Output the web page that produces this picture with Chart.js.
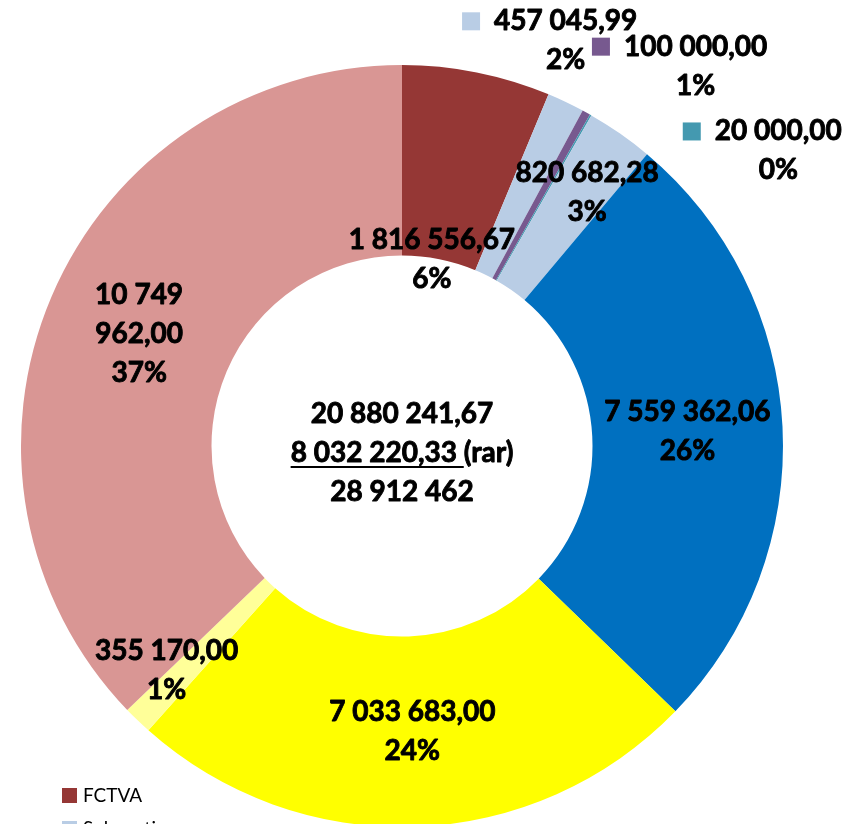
<!DOCTYPE html>
<html>
<head>
<meta charset="utf-8">
<script src="https://cdn.jsdelivr.net/npm/chart.js@4/dist/chart.umd.min.js"></script>
<style>
    html, body { margin: 0; padding: 0; background: #fff; overflow: hidden; }
    #recettesChart { display: block; }
</style>
</head>
<body>
<canvas id="recettesChart" width="860" height="900"></canvas>
<script>
// Recettes d'investissement (doughnut)
const categories = [
    'FCTVA', 'Subventions', 'Amendes de police', 'Cessions', 'Subventions (reports)',
    'Autofinancement', 'Emprunt', 'Taxe d\'aménagement', 'Excédent reporté'
];
const amounts = [
    1816556.67, 457045.99, 100000.00, 20000.00, 820682.28,
    7559362.06, 7033683.00, 355170.00, 10749962.00
];
const sliceColors = [
    '#953735', '#B9CDE5', '#77598F', '#4499B0', '#B9CDE5',
    '#0070C0', '#FFFF00', '#FFFF99', '#D99694'
];
// texte central : montant hors rar + rar = total
const centerAmounts = [20880241.67, 8032220.33];
const centerSuffix = '(rar)';

// placement des étiquettes : r = fraction du rayon externe, a = degrés depuis le haut
const labelPlacement = [
    { r: 0.497, a: 9.1 },
    { r: 1.147, a: 22.0, key: true },
    { r: 1.26, a: 37.7, key: true },
    { r: 1.255, a: 51.9, key: true },
    { r: 0.825, a: 36.1 },
    null,
    null,
    { r: 0.853, a: 226.4 },
    { maxWidth: 110 }
];

const FONT = "'Lato', 'Open Sans', sans-serif";

function formatFr(v, decimals) {
    const parts = v.toFixed(decimals).split('.');
    const intPart = parts[0].replace(/\B(?=(\d{3})+(?!\d))/g, ' ');
    return parts.length > 1 ? intPart + ',' + parts[1] : intPart;
}

// pourcentages arrondis comme Excel (plus forts restes, somme = 100)
function roundedPercents(values) {
    const total = values.reduce((a, b) => a + b, 0);
    const raw = values.map(v => v / total * 100);
    const floors = raw.map(Math.floor);
    let missing = 100 - floors.reduce((a, b) => a + b, 0);
    const order = raw.map((v, i) => ({ i, rest: v - Math.floor(v) }))
        .sort((a, b) => b.rest - a.rest);
    for (let k = 0; k < missing; k++) floors[order[k].i] += 1;
    return floors;
}

const percents = roundedPercents(amounts);

function wrapWords(ctx, text, maxWidth) {
    if (!maxWidth) return [text];
    const words = text.split(' ');
    const lines = [];
    let cur = '';
    words.forEach(w => {
        const test = cur ? cur + ' ' + w : w;
        if (cur && ctx.measureText(test).width > maxWidth) {
            lines.push(cur);
            cur = w;
        } else {
            cur = test;
        }
    });
    if (cur) lines.push(cur);
    return lines;
}

// texte gras un peu plus épais (Calibri gras dans l'original)
function boldText(ctx, t, x, y) {
    ctx.fillText(t, x, y);
    ctx.strokeText(t, x, y);
}

const labelsPlugin = {
    id: 'sliceLabels',
    afterDatasetsDraw(chart) {
        const ctx = chart.ctx;
        const meta = chart.getDatasetMeta(0);
        const lineH = 39;
        ctx.save();
        ctx.font = 'bold 28px ' + FONT;
        ctx.fillStyle = '#000';
        ctx.strokeStyle = '#000';
        ctx.lineWidth = 0.9;
        ctx.lineJoin = 'round';
        ctx.textBaseline = 'middle';
        ctx.textAlign = 'center';

        meta.data.forEach((arc, i) => {
            const p = arc.getProps(['x', 'y', 'startAngle', 'endAngle', 'innerRadius', 'outerRadius'], true);
            const place = labelPlacement[i] || {};
            let angle, radius;
            if (place.a !== undefined) {
                angle = place.a * Math.PI / 180 - Math.PI / 2;
                radius = place.r * p.outerRadius;
            } else {
                angle = (p.startAngle + p.endAngle) / 2;
                radius = (p.innerRadius + p.outerRadius) / 2;
            }
            const cx = p.x + Math.cos(angle) * radius;
            const cy = p.y + Math.sin(angle) * radius;

            const lines = wrapWords(ctx, formatFr(amounts[i], 2), place.maxWidth);
            lines.push(percents[i] + '%');
            const top = cy - (lines.length - 1) * lineH / 2;
            lines.forEach((t, k) => {
                boldText(ctx, t, cx, top + k * lineH);
            });

            if (place.key) {
                const w = ctx.measureText(lines[0]).width;
                ctx.fillStyle = sliceColors[i];
                ctx.fillRect(cx - w / 2 - 32, top - 9, 18, 18);
                ctx.fillStyle = '#000';
            }
        });

        // texte central
        const c = meta.data[0];
        const cx = c.x;
        const cy = c.y + 7;
        const l1 = formatFr(centerAmounts[0], 2);
        const l2a = formatFr(centerAmounts[1], 2) + ' ';
        const l2 = l2a + centerSuffix;
        const l3 = formatFr(amounts.reduce((a, b) => a + b, 0), 0);
        boldText(ctx, l1, cx, cy - lineH);
        boldText(ctx, l2, cx, cy);
        boldText(ctx, l3, cx, cy + lineH);
        const w2 = ctx.measureText(l2).width;
        const wa = ctx.measureText(l2a).width;
        ctx.fillRect(cx - w2 / 2, cy + 13, wa, 2);
        ctx.restore();
    }
};

const legendPlugin = {
    id: 'bottomLegend',
    afterDraw(chart) {
        const ctx = chart.ctx;
        ctx.save();
        ctx.font = '19px ' + FONT;
        ctx.textBaseline = 'middle';
        ctx.textAlign = 'left';
        categories.forEach((name, i) => {
            const y = 788 + i * 33;
            ctx.fillStyle = sliceColors[i];
            ctx.fillRect(62, y, 15, 15);
            ctx.fillStyle = '#000';
            ctx.fillText(name, 83, y + 8);
        });
        ctx.restore();
    }
};

const chart = new Chart(document.getElementById('recettesChart').getContext('2d'), {
    type: 'doughnut',
    data: {
        labels: categories,
        datasets: [{
            data: amounts,
            backgroundColor: sliceColors,
            borderWidth: 0
        }]
    },
    options: {
        responsive: false,
        animation: false,
        cutout: '50%',
        layout: {
            padding: { top: 65, bottom: 73, left: 21, right: 77 }
        },
        plugins: {
            legend: { display: false },
            tooltip: { enabled: false }
        }
    },
    plugins: [labelsPlugin, legendPlugin]
});
</script>
</body>
</html>
